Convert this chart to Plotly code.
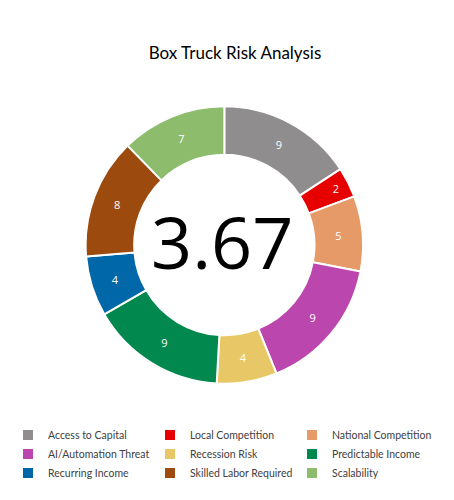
import plotly.graph_objects as go

# Risk factors and their scores
categories = ['Access to Capital', 'Local Competition', 'National Competition',
              'AI/Automation Threat', 'Recession Risk', 'Predictable Income',
              'Recurring Income', 'Skilled Labor Required', 'Scalability']
scores = [9, 2, 5, 9, 4, 9, 4, 8, 7]
colors = ['#8f8d8d', '#e60000', '#e59a68', '#bb46ad', '#e8c866',
          '#00884f', '#0068a8', '#9c4a0e', '#8cbc6c']
average_score = '3.67'

fig = go.Figure()

fig.add_trace(go.Pie(
    labels=categories,
    values=scores,
    hole=0.65,
    sort=False,
    direction='clockwise',
    rotation=0,
    marker=dict(colors=colors, line=dict(color='white', width=2)),
    textinfo='value',
    textposition='inside',
    insidetextorientation='horizontal',
    textfont=dict(color='white', size=11, family='Open Sans'),
    domain=dict(x=[0.171, 0.782], y=[0.248, 0.804]),
))

# big number in the middle of the donut
fig.add_annotation(text=average_score, x=0.4705, y=0.534, xref='paper', yref='paper',
                   showarrow=False, font=dict(size=72, color='black', family='Open Sans'))

fig.update_layout(
    title=dict(text='Box Truck Risk Analysis', x=0.5, xanchor='center', y=0.91, yanchor='middle',
               font=dict(size=17, color='black', family='Lato')),
    width=454, height=500,
    margin=dict(l=0, r=0, t=0, b=0),
    paper_bgcolor='white',
    plot_bgcolor='white',
    showlegend=True,
    legend=dict(orientation='h', x=0.0, xanchor='left', y=0.175, yanchor='top',
                entrywidth=97, entrywidthmode='pixels', itemwidth=30,
                traceorder='normal',
                font=dict(size=10.5, color='#404040', family='Lato')),
)

fig.write_html('out.html')
